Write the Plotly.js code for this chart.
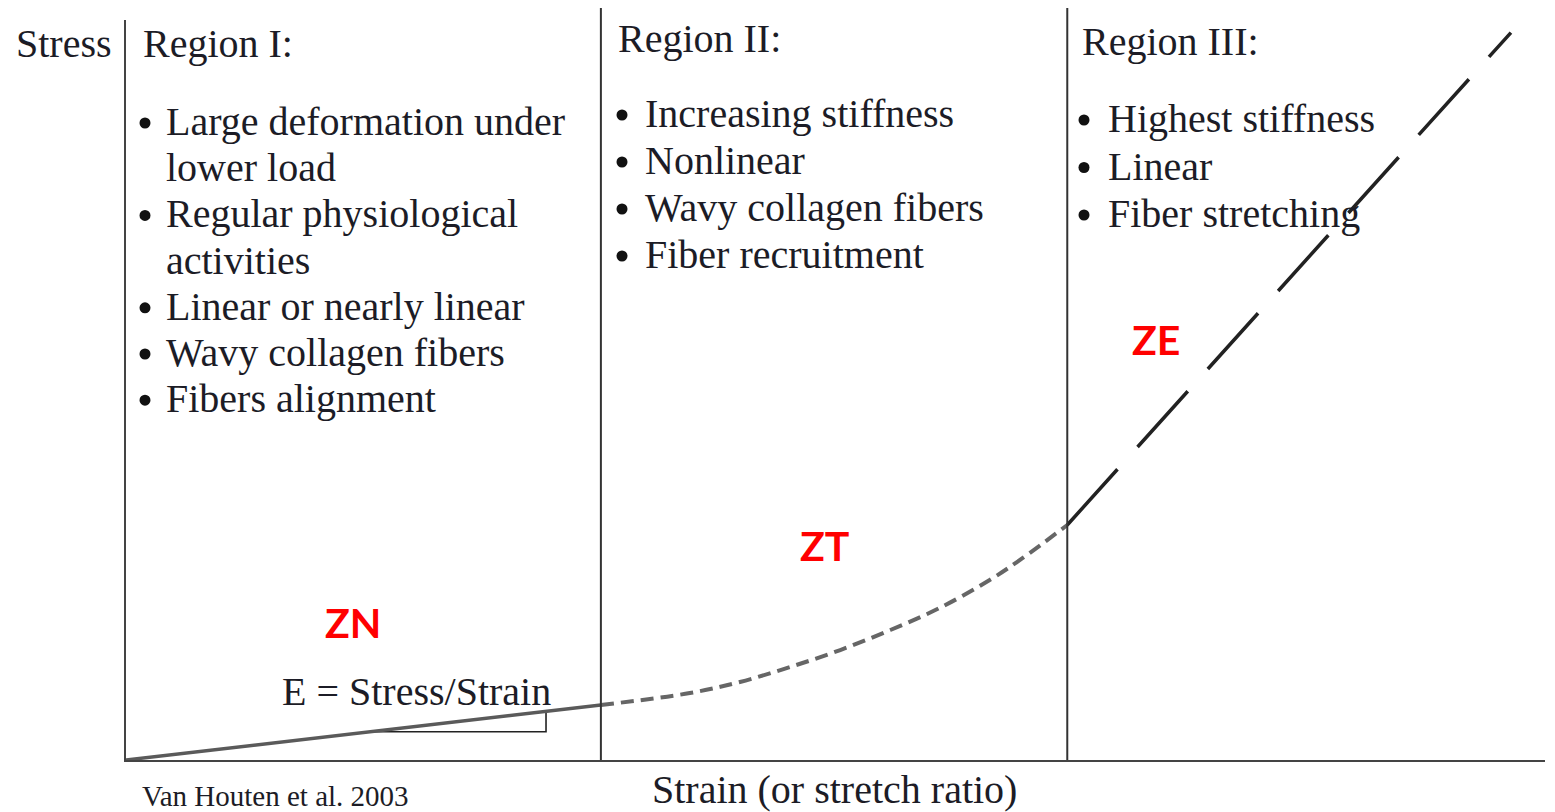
<!DOCTYPE html>
<html><head><meta charset="utf-8">
<script src="https://cdn.plot.ly/plotly-3.0.1.min.js"></script>
<style>html,body{margin:0;padding:0;background:#fff;overflow:hidden}#chart{width:1555px;height:812px}</style>
</head><body><div id="chart"></div>
<script>
// ---- Data (strain in arbitrary units, stress in % of max) ----
const linearStrain = [0, 0.502];
const linearStress = [0, 7.43];
const toeStrain = [0.502, 0.596, 0.649, 0.702, 0.755, 0.808, 0.860, 0.913, 0.948, 0.995];
const toeStress = [7.43, 9.05, 10.54, 12.57, 14.86, 17.57, 20.54, 24.32, 27.30, 31.76];
const stiffStrain = [0.995, 1.464];
const stiffStress = [31.76, 98.3];
const slopeStrain = [0.258, 0.444, 0.444];
const slopeStress = [3.82, 3.82, 6.57];
const regionBounds = [0.502, 0.995];

const regionTitles = ['Region I:', 'Region II:', 'Region III:'];
const region1Items = [['Large deformation under', 'lower load'], ['Regular physiological', 'activities'], ['Linear or nearly linear'], ['Wavy collagen fibers'], ['Fibers alignment']];
const region2Items = [['Increasing stiffness'], ['Nonlinear'], ['Wavy collagen fibers'], ['Fiber recruitment']];
const region3Items = [['Highest stiffness'], ['Linear'], ['Fiber stretching']];
const zoneLabels = ['ZN', 'ZT', 'ZE'];
const yAxisLabel = 'Stress';
const xAxisLabel = 'Strain (or stretch ratio)';
const modulusLabel = 'E = Stress/Strain';
const sourceLabel = 'Van Houten et al. 2003';

// ---- Layout helpers ----
const W = 1555, H = 812;
const ML = 126, MR = 10, MT = 20, MB = 52;
const PW = W - ML - MR, PH = H - MT - MB;
const px2x = p => (p - ML) / PW;
const px2y = p => (H - MB - p) / PH;
const SERIF = 'Liberation Serif, Times New Roman, serif';
const TXT = '#1c1c26';
const FS = 40;

const annotations = [];
const shapes = [];
function addText(text, leftPx, baselinePx, opts = {}) {
  const fs = opts.size || FS;
  annotations.push({
    xref: 'paper', yref: 'paper',
    x: px2x(leftPx), y: px2y(baselinePx - 0.3375 * fs),
    xanchor: opts.anchor || 'left', yanchor: 'middle',
    text: text, showarrow: false, borderpad: 0,
    font: {family: opts.family || SERIF, size: fs, color: opts.color || TXT, weight: opts.weight || 'normal'}
  });
}
function addBullet(cx, cy) {
  const r = 5.5;
  shapes.push({
    type: 'circle', xref: 'paper', yref: 'paper',
    x0: px2x(cx - r), x1: px2x(cx + r), y0: px2y(cy + r), y1: px2y(cy - r),
    fillcolor: '#111', line: {width: 0}
  });
}
function addBlock(title, items, titleX, titleBase, bulletX, textX, firstBase, spacing) {
  addText(title, titleX, titleBase);
  let line = 0;
  items.forEach(item => {
    item.forEach((t, i) => {
      const b = firstBase + spacing * line;
      if (i === 0) addBullet(bulletX, b - 12);
      addText(t, textX, b);
      line++;
    });
  });
}
addBlock(regionTitles[0], region1Items, 142, 57, 145, 165, 135, 46.2);
addBlock(regionTitles[1], region2Items, 617, 52, 622, 644, 127, 47);
addBlock(regionTitles[2], region3Items, 1081, 55, 1084, 1107, 132, 47.5);

addText(yAxisLabel, 15, 57);
addText(xAxisLabel, 834, 803, {anchor: 'center'});
addText(modulusLabel, 281, 705);
addText(sourceLabel, 141, 806, {size: 29});

const zonePos = [[353, 623], [824, 546], [1156, 340]];
zoneLabels.forEach((z, i) => {
  annotations.push({
    xref: 'paper', yref: 'paper', x: px2x(zonePos[i][0]), y: px2y(zonePos[i][1] - 1),
    xanchor: 'center', yanchor: 'middle', text: z, showarrow: false, borderpad: 0,
    font: {family: 'Lato, Open Sans, sans-serif', size: 41, color: '#ff0000', weight: 'bold'}
  });
});

// ---- Traces ----
const traces = [
  {x: slopeStrain, y: slopeStress, mode: 'lines', line: {color: '#222', width: 1.6}, hoverinfo: 'skip'},
  {x: linearStrain, y: linearStress, mode: 'lines', line: {color: '#5a5a5a', width: 3.5}, hoverinfo: 'skip'},
  {x: toeStrain, y: toeStress, mode: 'lines', line: {color: '#666', width: 4, dash: '13px,7px', shape: 'spline'}, hoverinfo: 'skip'},
  {x: stiffStrain, y: stiffStress, mode: 'lines', line: {color: '#222', width: 3.5, dash: '75px,30px'}, hoverinfo: 'skip'}
];

regionBounds.forEach(b => shapes.push({
  type: 'line', xref: 'x', yref: 'paper', x0: b, x1: b, y0: 0, y1: px2y(8),
  line: {color: '#333', width: 2}
}));

const layout = {
  width: W, height: H,
  margin: {l: ML, r: MR, t: MT, b: MB, pad: 0},
  paper_bgcolor: '#fff', plot_bgcolor: '#fff',
  showlegend: false,
  xaxis: {range: [0, 1.5], showline: true, linecolor: '#444', linewidth: 2, showgrid: false, zeroline: false, showticklabels: false, ticks: '', fixedrange: true},
  yaxis: {range: [0, 100], showline: true, linecolor: '#444', linewidth: 2, showgrid: false, zeroline: false, showticklabels: false, ticks: '', fixedrange: true},
  shapes: shapes,
  annotations: annotations
};

Plotly.newPlot('chart', traces, layout, {displayModeBar: false, staticPlot: true});
</script>
</body></html>
